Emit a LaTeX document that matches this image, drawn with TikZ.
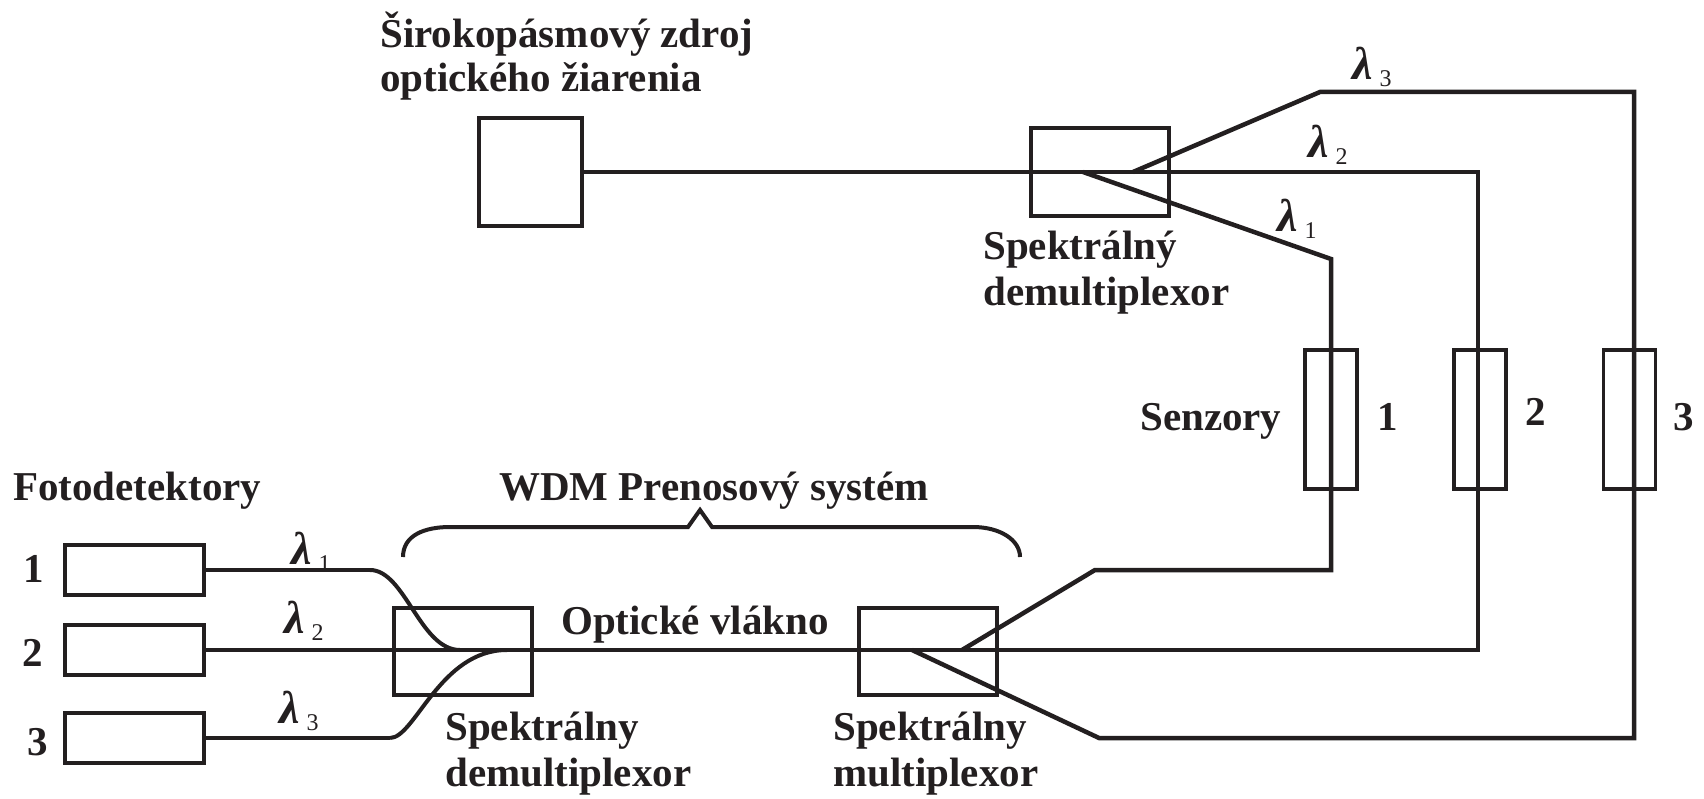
\documentclass[tikz,border=0pt]{standalone}
\usepackage{fontspec}
\setmainfont{Liberation Serif}
\definecolor{ink}{HTML}{231F20}
% wavelength label: bold italic lambda with a lowered index
\newcommand{\lam}[1]{{\fontsize{46}{46}\selectfont\bfseries\itshape λ}\hspace{7pt}\raisebox{-7pt}{\fontsize{24}{24}\selectfont\mdseries\upshape #1}}

\begin{document}
\begin{tikzpicture}[x=1pt,y=-1pt,
  wire/.style={draw=ink, line width=4.5pt, line join=miter},
  curvewire/.style={draw=ink, line width=4pt},
  blk/.style={draw=ink, line width=4pt, rectangle, inner sep=0pt},
  sens/.style={draw=ink, line width=3.5pt, rectangle, inner sep=0pt,
               minimum width=52pt, minimum height=139pt},
  lbl/.style={anchor=base west, inner sep=0pt, text=ink,
              font=\fontsize{41}{46}\selectfont\bfseries},
  wl/.style={anchor=base west, inner sep=0pt, text=ink,
             font=\fontsize{41}{46}\selectfont}]

\useasboundingbox (0,0) rectangle (1704,799);

% ---- blocks ----
\node[blk, minimum width=139pt, minimum height=50pt] (det1) at (134.5,570) {};
\node[blk, minimum width=139pt, minimum height=50pt] (det2) at (134.5,650) {};
\node[blk, minimum width=139pt, minimum height=50pt] (det3) at (134.5,738) {};
\node[blk, minimum width=103pt, minimum height=108pt] (src) at (530.5,172) {};
\node[blk, minimum width=138pt, minimum height=88pt] (dmxtop) at (1100,172) {};
\node[blk, minimum width=138pt, minimum height=87pt] (dmxbot) at (463,651.5) {};
\node[blk, minimum width=138pt, minimum height=87pt] (mux) at (928,651.5) {};
\node[sens] (sen1) at (1331,419.5) {};
\node[sens] (sen2) at (1480,419.5) {};
\node[sens] (sen3) at (1629.5,419.5) {};

% ---- bend points of the fibres ----
\coordinate (dA) at (1083,172);
\coordinate (dB) at (1133,172);
\coordinate (s1top) at (1331,259);
\coordinate (s1br) at (1331,570);
\coordinate (s1bl) at (1095,570);
\coordinate (mxA) at (962,650);
\coordinate (s2top) at (1478,172);
\coordinate (s2bot) at (1478,650);
\coordinate (s3tl) at (1320,92);
\coordinate (s3top) at (1634,92);
\coordinate (s3br) at (1634,738);
\coordinate (s3bl) at (1099,738);
\coordinate (mxB) at (912,650);
\coordinate (c1) at (370,570);
\coordinate (j1) at (460,650);
\coordinate (c3) at (390,738);
\coordinate (j3) at (507,650);

% ---- fibres ----
\draw[wire] (det2.east) -- (s2bot) -- (s2top) -- (src.east);
\draw[wire] (mxA) -- (s1bl) -- (s1br) -- (s1top) -- (dA);
\draw[wire] (mxB) -- (s3bl) -- (s3br) -- (s3top) -- (s3tl) -- (dB);
\draw[wire] (det1.east) -- (c1);
\draw[curvewire] (c1) .. controls (405,570) and (420,650) .. (j1);
\draw[wire] (det3.east) -- (c3);
\draw[curvewire] (c3) .. controls (415,738) and (440,650) .. (j3);

% ---- brace over the transmission part ----
\coordinate (brL) at (403,557);
\coordinate (brR) at (1020,557);
\coordinate (brT) at (700,510);
\draw[curvewire] (brL) .. controls (403,535) and (425,527) .. (450,527)
  -- (688,527) -- (brT) -- (712,527) -- (973,527)
  .. controls (1000,527) and (1020,540) .. (brR);

% ---- texts ----
\node[lbl] (t1) at (380,48) {Širokopásmový zdroj};
\node[lbl] (t2) at (380,92) {optického žiarenia};
\node[lbl] (t3) at (983,260) {Spektrálný};
\node[lbl] (t4) at (983,306) {demultiplexor};
\node[lbl] (t5) at (1140,430) {Senzory};
\node[lbl] (n1) at (1377,430) {1};
\node[lbl] (n2) at (1525,425) {2};
\node[lbl] (n3) at (1673,430) {3};
\node[lbl] (t6) at (13,500) {Fotodetektory};
\node[lbl] (d1) at (23,582) {1};
\node[lbl] (d2) at (22,666) {2};
\node[lbl] (d3) at (27,755) {3};
\node[lbl] (t7) at (499,500) {WDM Prenosový systém};
\node[lbl] (t8) at (561,634) {Optické vlákno};
\node[lbl] (t9) at (445,740) {Spektrálny};
\node[lbl] (t10) at (445,786) {demultiplexor};
\node[lbl] (t11) at (833,740) {Spektrálny};
\node[lbl] (t12) at (833,786) {multiplexor};

% ---- wavelength labels ----
\node[wl] (lb1) at (291,564) {\lam{1}};
\node[wl] (lb2) at (284,633) {\lam{2}};
\node[wl] (lb3) at (279,723) {\lam{3}};
\node[wl] (lt1) at (1277,232) {\lam{1}};
\node[wl] (lt2) at (1308,158) {\lam{2}};
\node[wl] (lt3) at (1352,80) {\lam{3}};
\end{tikzpicture}
\end{document}
